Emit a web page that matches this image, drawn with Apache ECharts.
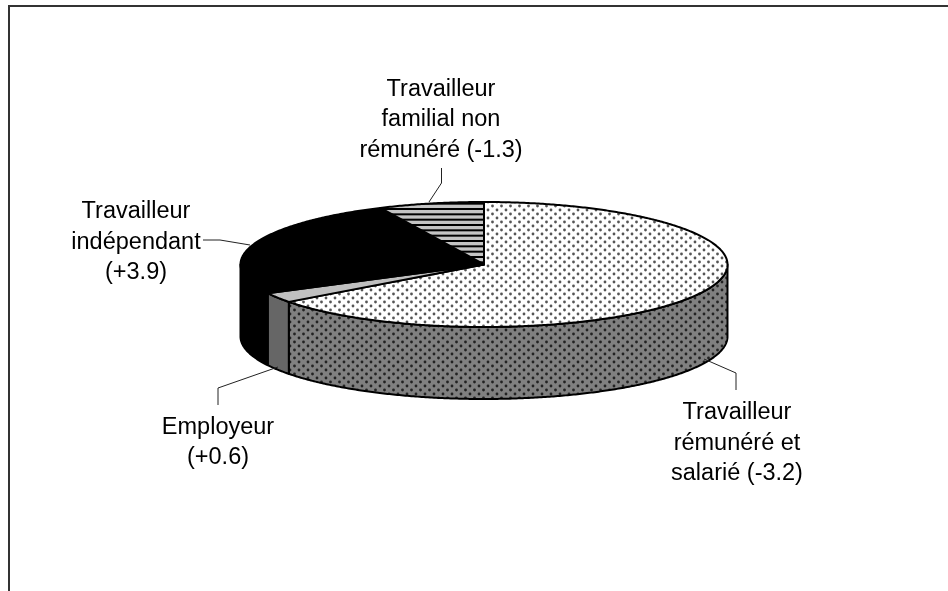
<!DOCTYPE html>
<html>
<head>
<meta charset="utf-8">
<style>html,body{margin:0;padding:0;background:#fff}#c{width:948px;height:591px}</style>
<script src="https://cdn.jsdelivr.net/npm/echarts@6/dist/echarts.min.js"></script>
</head>
<body>
<div id="c"></div>
<script>
const categories = ['Travailleur rémunéré et salarié', 'Employeur', 'Travailleur indépendant', 'Travailleur familial non rémunéré'];
const shares = [64.8, 2.6, 25.6, 7.0];
const changes = ['-3.2', '+0.6', '+3.9', '-1.3'];
const wrappedNames = ['Travailleur\nrémunéré et\nsalarié', 'Employeur', 'Travailleur\nindépendant', 'Travailleur\nfamilial non\nrémunéré'];
const nameBreakBeforeChange = [' ', '\n', '\n', ' '];

// layout (not data)
const PIE = {cx: 484, cy: 264.5, rx: 243.5, ry: 62.5, depth: 72};
const LABEL = [
  {x: 737, y: 443.5},
  {x: 218, y: 442.5},
  {x: 136, y: 242.5},
  {x: 441, y: 120}
];
const LEADER = [
  [[704, 359], [736, 373], [736, 390]],
  [[278, 367], [218, 388], [218, 405]],
  [[203, 240], [220, 240], [250, 245]],
  [[441.5, 168], [441.5, 183], [429, 202]]
];

function tile(w, h, draw) {
  const c = document.createElement('canvas');
  c.width = w; c.height = h;
  draw(c.getContext('2d'));
  return {image: c, repeat: 'repeat'};
}
function dots(bg, fg) {
  return tile(9, 8, g => {
    g.fillStyle = bg; g.fillRect(0, 0, 9, 8);
    [[2, 2], [6.5, 6]].forEach(p => {
      g.fillStyle = fg;
      g.beginPath(); g.arc(p[0], p[1], 1.4, 0, Math.PI * 2); g.fill();
    });
  });
}
const stripes = tile(4, 16, g => {
  g.fillStyle = '#c4c4c4'; g.fillRect(0, 0, 4, 16);
  g.fillStyle = '#000';
  [0, 5.33, 10.67].forEach(y => g.fillRect(0, y, 4, 2));
});

const topFill = [dots('#ffffff', '#555555'), '#c0c0c0', '#000000', stripes];
const sideFill = [dots('#808080', '#222222'), '#666666', '#000000', '#000000'];

const starts = [];
shares.reduce((sum, v, i) => { starts[i] = sum; return sum + v; }, 0);
const total = shares.reduce((a, b) => a + b, 0);

function pt(deg, dy) {
  const r = deg * Math.PI / 180;
  return [PIE.cx + PIE.rx * Math.sin(r), PIE.cy - PIE.ry * Math.cos(r) + (dy || 0)];
}
function arc(a, b, dy) {
  const out = [];
  const n = Math.max(2, Math.ceil(Math.abs(b - a) * 2));
  for (let i = 0; i <= n; i++) out.push(pt(a + (b - a) * i / n, dy));
  return out;
}

function renderItem(params, api) {
  const i = params.dataIndex;
  const a1 = starts[i] / total * 360;
  const a2 = a1 + api.value(0) / total * 360;
  const children = [];
  const s1 = Math.max(a1, 90), s2 = Math.min(a2, 270);
  if (s2 > s1) {
    children.push({
      type: 'polygon',
      shape: {points: arc(s1, s2, 0).concat(arc(s2, s1, PIE.depth))},
      style: {fill: sideFill[i], stroke: '#000', lineWidth: 2, lineJoin: 'round'}
    });
  }
  children.push({
    type: 'polygon', z2: 2,
    shape: {points: [[PIE.cx, PIE.cy]].concat(arc(a1, a2, 0))},
    style: {fill: topFill[i], stroke: '#000', lineWidth: 2, lineJoin: 'round'}
  });
  children.push({
    type: 'polyline', z2: 3,
    shape: {points: LEADER[i]},
    style: {fill: null, stroke: '#222', lineWidth: 1}
  });
  children.push({
    type: 'text', z2: 4,
    style: {
      text: wrappedNames[i] + nameBreakBeforeChange[i] + '(' + changes[i] + ')',
      x: LABEL[i].x, y: LABEL[i].y,
      align: 'center', verticalAlign: 'middle',
      font: '23.5px "Liberation Sans", Arial, sans-serif',
      lineHeight: 30.5,
      fill: '#000'
    }
  });
  return {type: 'group', children};
}

const chart = echarts.init(document.getElementById('c'), null, {renderer: 'canvas'});
chart.setOption({
  animation: false,
  backgroundColor: '#fff',
  graphic: [
    {type: 'line', z: 10, shape: {x1: 8, y1: 6, x2: 948, y2: 6}, style: {stroke: '#333', lineWidth: 2}},
    {type: 'line', z: 10, shape: {x1: 9, y1: 5, x2: 9, y2: 591}, style: {stroke: '#333', lineWidth: 2}}
  ],
  series: [{
    type: 'custom',
    coordinateSystem: 'none',
    renderItem,
    silent: true,
    data: categories.map((name, i) => ({name, value: [shares[i]]}))
  }]
});
</script>
</body>
</html>
